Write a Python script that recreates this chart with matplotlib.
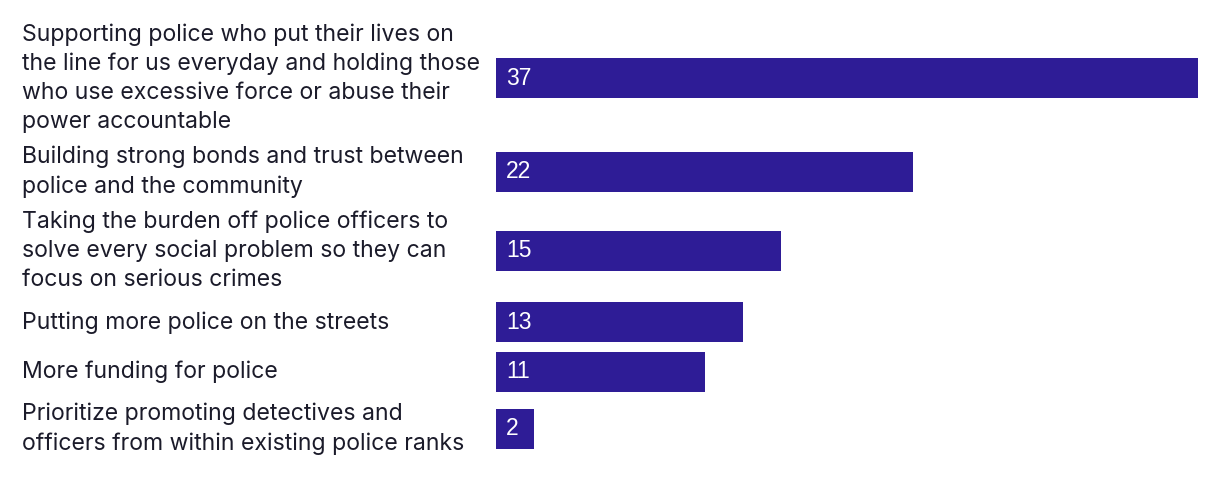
import matplotlib.pyplot as plt
import matplotlib.transforms as mtransforms
import numpy as np

labels = [
    "Supporting police who put their lives on\nthe line for us everyday and holding those\nwho use excessive force or abuse their\npower accountable",
    "Building strong bonds and trust between\npolice and the community",
    "Taking the burden off police officers to\nsolve every social problem so they can\nfocus on serious crimes",
    "Putting more police on the streets",
    "More funding for police",
    "Prioritize promoting detectives and\nofficers from within existing police ranks",
]
values = [37, 22, 15, 13, 11, 2]

bar_color = "#2e1c96"
text_color = "#1b1b2a"

# row layout in pixel units, driven by how many lines each label has
line_h = 29
n_lines = np.array([lab.count("\n") + 1 for lab in labels])
row_h = np.maximum(n_lines * line_h, 43) + 6.5
tops = 17 + np.concatenate([[0], np.cumsum(row_h)[:-1]])
centers = tops + row_h / 2

fig = plt.figure(figsize=(12.2, 4.78), dpi=100)
ax = fig.add_axes([496 / 1220, 0, (1198 - 496) / 1220, 1])
ax.barh(centers, values, height=40, color=bar_color)
ax.set_xlim(0, 37)
ax.set_ylim(478, 0)
ax.axis("off")

trans = mtransforms.blended_transform_factory(fig.transFigure, ax.transData)
for y, lab in zip(centers, labels):
    ax.text(22 / 1220, y, lab, transform=trans, ha="left", va="center",
            fontsize=16.6, family="Inter", color=text_color, linespacing=1.41)

for y, v in zip(centers, values):
    ax.annotate(str(v), (0, y), xytext=(10, 0), textcoords="offset pixels",
                ha="left", va="center", fontsize=16.5, family="Liberation Sans",
                color="white")

fig.savefig("out.png", dpi=100)
